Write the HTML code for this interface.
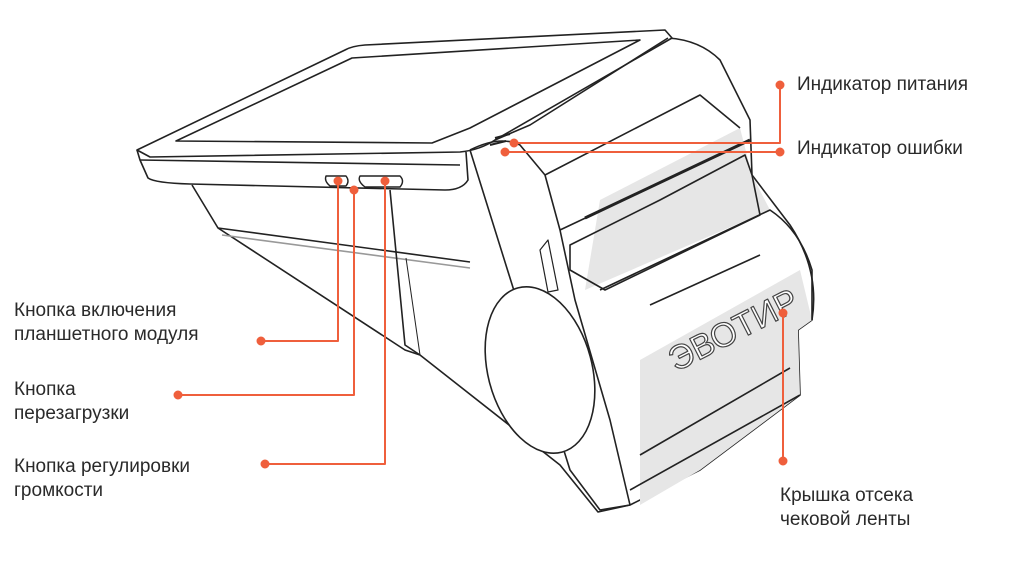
<!DOCTYPE html>
<html><head><meta charset="utf-8"><style>
html,body{margin:0;padding:0;background:#fff;width:1024px;height:570px;overflow:hidden}
.t{position:absolute;font-family:"Liberation Sans","DejaVu Sans",sans-serif;font-size:19px;color:#2a2a2a;line-height:24px}
</style></head><body>
<svg width="1024" height="570" style="position:absolute;left:0;top:0" fill="none" stroke="#222" stroke-width="1.6" stroke-linejoin="round">
<path d="M470,150 L668,38 Q700,40 720,60 L750,120 L752,175 L790,225 Q820,270 812,320 L798,330 L800,395 L700,470 L630,505 L600,510 L570,470 Z" fill="#fff"/>
<path d="M600,200 L740,128 L752,175 L770,210 L585,290 Z" fill="#e6e6e6" stroke="none"/>
<path d="M640,360 L800,270 L812,320 L798,330 L800,395 L700,470 L640,505 Z" fill="#e6e6e6" stroke="none"/>
<path d="M192,185 L218,228 L405,350 L420,355 L560,465 L598,512 L630,505" />
<path d="M218,228 L470,262"/>
<path d="M222,235 L470,268" stroke="#999"/>
<path d="M390,190 L405,345 L420,355"/>
<path d="M406,258 L420,355" stroke-width="1"/>
<path d="M137,150 L345,50 Q352,46 365,45 L665,30 L672,38 L495,140 Q480,150 460,152 L150,157 Z" fill="#fff"/>
<path d="M176,141 L352,58 L640,40 L470,128 L432,143 Z"/>
<path d="M137,150 L140,160 L148,178 Q155,183 190,184 L445,190 Q462,190 468,180 L466,152"/>
<path d="M140,160 L460,165"/>
<path d="M326,176 L346,176 Q350,181 346,186 L330,186 Q324,181 326,176Z" stroke-width="1.4"/>
<path d="M360,176 L400,176 Q405,181 400,187 L365,187 Q357,181 360,176Z" stroke-width="1.4"/>
<path d="M470,150 Q500,135 520,145 L545,175 L560,230 L575,300 L610,420 L630,505"/>
<path d="M495,140 L530,125 L668,38"/>
<path d="M545,175 L700,95 L740,128"/>
<path d="M560,230 L740,145"/>
<path d="M585,218 L750,140" stroke-width="3"/>
<path d="M570,245 L660,200 L745,155 L752,175 L760,215 L605,290 L570,270 Z"/>
<path d="M600,290 L770,210 Q800,230 812,270 L812,320"/>
<path d="M650,305 L760,255"/>
<path d="M630,490 L800,395"/>
<path d="M640,455 L790,368"/>
<ellipse cx="540" cy="370" rx="52" ry="85" transform="rotate(-15 540 370)" fill="#fff"/>
<path d="M548,240 L558,290 L548,292 L540,250 Z" stroke-width="1.2"/>
<path d="M495,138 L510,134 M490,145 L506,141" stroke-width="2"/>
<text x="676" y="372" font-family="Liberation Sans,sans-serif" font-size="34" fill="#fff" stroke="#444" stroke-width="1.2" transform="rotate(-27 676 372)">ЭВОТИР</text>
<g stroke="#ef5f3c" stroke-width="2" fill="#ef5f3c">
<path d="M780,85 L780,143 L514,143" fill="none"/><circle cx="780" cy="85" r="3.5"/><circle cx="514" cy="143" r="3.5"/>
<path d="M780,152 L505,152" fill="none"/><circle cx="780" cy="152" r="3.5"/><circle cx="505" cy="152" r="3.5"/>
<path d="M338,181 L338,341 L261,341" fill="none"/><circle cx="338" cy="181" r="3.5"/><circle cx="261" cy="341" r="3.5"/>
<path d="M354,190 L354,395 L178,395" fill="none"/><circle cx="354" cy="190" r="3.5"/><circle cx="178" cy="395" r="3.5"/>
<path d="M385,181 L385,464 L265,464" fill="none"/><circle cx="385" cy="181" r="3.5"/><circle cx="265" cy="464" r="3.5"/>
<path d="M783,313 L783,461" fill="none"/><circle cx="783" cy="313" r="3.5"/><circle cx="783" cy="461" r="3.5"/>
</g>
</svg>
<div class="t" style="left:797px;top:73px">Индикатор питания</div>
<div class="t" style="left:797px;top:137px">Индикатор ошибки</div>
<div class="t" style="left:14px;top:299px">Кнопка включения<br>планшетного модуля</div>
<div class="t" style="left:14px;top:378px">Кнопка<br>перезагрузки</div>
<div class="t" style="left:14px;top:455px">Кнопка регулировки<br>громкости</div>
<div class="t" style="left:780px;top:484px">Крышка отсека<br>чековой ленты</div>
</body></html>
